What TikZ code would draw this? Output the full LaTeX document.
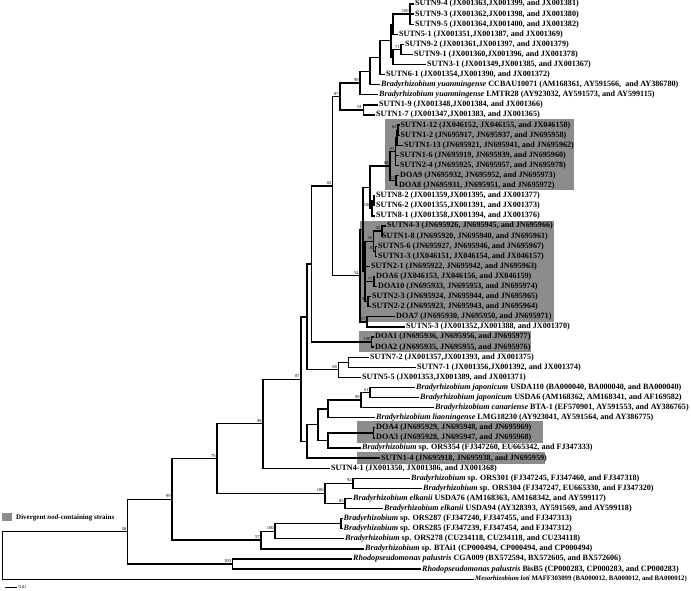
\documentclass[tikz,border=0pt]{standalone}
\usepackage{fontspec}
\setmainfont{Liberation Serif}
\begin{document}
\begin{tikzpicture}[x=1pt,y=-1pt,
    br/.style={line width=1.3pt},
    leaf/.style={anchor=west,inner sep=1pt,font=\fontsize{8.1}{9}\selectfont\bfseries},
    bs/.style={anchor=south east,inner sep=0pt,font=\fontsize{4.5}{5}\selectfont},
    grp/.style={fill=black!45}]
  \useasboundingbox (0,0) rectangle (691,590);
  % shaded groups
  \fill[grp] (385,119) rectangle (574,190);
  \fill[grp] (360,221) rectangle (554,322);
  \fill[grp] (359,331) rectangle (531,352);
  \fill[grp] (356.5,421) rectangle (542.5,443);
  \fill[grp] (356.5,452) rectangle (545,464);
  % inner nodes
  \coordinate (R) at (2.7,555.4);
  \coordinate (N58) at (127.7,531.7);
  \coordinate (N99) at (172,499.3);
  \coordinate (Nrp) at (232.3,564.05);
  \coordinate (N70) at (217,458.5);
  \coordinate (N57b) at (261,540.05);
  \coordinate (N100b) at (275,531.2);
  \coordinate (N100o) at (341,523.65);
  \coordinate (N100e) at (325,493.4);
  \coordinate (N92) at (353,483.35);
  \coordinate (N85) at (345,503.45);
  \coordinate (N98) at (263,423.7);
  \coordinate (N87) at (301,379.2);
  \coordinate (A) at (307,316.9);
  \coordinate (D) at (307,441.4);
  \coordinate (E) at (318,424.7);
  \coordinate (F) at (328,408.9);
  \coordinate (G) at (328,440.4);
  \coordinate (N99j) at (361,400.0);
  \coordinate (N61) at (370,392.45);
  \coordinate (Nd43) at (373.5,432.85);
  \coordinate (B) at (311.7,264);
  \coordinate (N68) at (338.3,369.8);
  \coordinate (N7) at (348.3,362.25);
  \coordinate (N100d) at (371.7,342.05);
  \coordinate (N82) at (332.7,186.05);
  \coordinate (N87u) at (340,96.5);
  \coordinate (N90) at (360,83);
  \coordinate (Ne) at (370,71.15);
  \coordinate (Nd) at (380,57.6);
  \coordinate (Nc) at (391,40.6);
  \coordinate (Na) at (393,24.2);
  \coordinate (N100a) at (410,14.1);
  \coordinate (Nb) at (393,57);
  \coordinate (N71) at (401,49.45);
  \coordinate (N91) at (363.3,109.95);
  \coordinate (N54) at (360,275.6);
  \coordinate (T) at (363,229.3);
  \coordinate (Hn) at (370,187.2);
  \coordinate (N88) at (390,166.05);
  \coordinate (N93) at (395.5,151.55);
  \coordinate (N63c) at (397,137.7);
  \coordinate (N63a) at (398,130.15);
  \coordinate (N63b) at (396,180.55);
  \coordinate (N100s) at (372,208.3);
  \coordinate (Ns) at (374,200.75);
  \coordinate (V) at (365,271.4);
  \coordinate (N56) at (373.5,241.15);
  \coordinate (N55) at (382,231.05);
  \coordinate (N87g) at (375.5,251.25);
  \coordinate (N77) at (374,281.45);
  \coordinate (N94) at (368,301.65);
  \coordinate (N57g) at (367,321.85);
  % leaves
  \node[leaf] (l1) at (414,4.0) {SUTN9-4 (JX001363,JX001399, and JX001381)};
  \node[leaf] (l2) at (414,14.1) {SUTN9-3 (JX001362,JX001398, and JX001380)};
  \node[leaf] (l3) at (414,24.2) {SUTN9-5 (JX001364,JX001400, and JX001382)};
  \node[leaf] (l4) at (398,34.3) {SUTN5-1 (JX001351,JX001387, and JX001369)};
  \node[leaf] (l5) at (404,44.4) {SUTN9-2 (JX001361,JX001397, and JX001379)};
  \node[leaf] (l6) at (413,54.5) {SUTN9-1 (JX001360,JX001396, and JX001378)};
  \node[leaf] (l7) at (426,64.5) {SUTN3-1 (JX001349,JX001385, and JX001367)};
  \node[leaf] (l8) at (385,74.6) {SUTN6-1 (JX001354,JX001390, and JX001372)};
  \node[leaf] (l9) at (380,84.7) {\textit{Bradyrhizobium yuanmingense} CCBAU10071 (AM168361, AY591566,\ \ and AY386780)};
  \node[leaf] (l10) at (378,94.8) {\textit{Bradyrhizobium yuanmingense} LMTR28 (AY923032, AY591573, and AY599115)};
  \node[leaf] (l11) at (378,104.9) {SUTN1-9 (JX001348,JX001384, and JX001366)};
  \node[leaf] (l12) at (375,115.0) {SUTN1-7 (JX001347,JX001383, and JX001365)};
  \node[leaf] (l13) at (399.5,125.1) {SUTN1-12 (JX046152, JX046155, and JX046158)};
  \node[leaf] (l14) at (399.5,135.2) {SUTN1-2 (JN695917, JN695937, and JN695958)};
  \node[leaf] (l15) at (403,145.3) {SUTN1-13 (JN695921, JN695941, and JN695962)};
  \node[leaf] (l16) at (399,155.4) {SUTN1-6 (JN695919, JN695939, and JN695960)};
  \node[leaf] (l17) at (399,165.4) {SUTN2-4 (JN695925, JN695957, and JN695978)};
  \node[leaf] (l18) at (399,175.5) {DOA9 (JN695932, JN695952, and JN695973)};
  \node[leaf] (l19) at (398,185.6) {DOA8 (JN695931, JN695951, and JN695972)};
  \node[leaf] (l20) at (375,195.7) {SUTN8-2 (JX001359,JX001395, and JX001377)};
  \node[leaf] (l21) at (375,205.8) {SUTN6-2 (JX001355,JX001391, and JX001373)};
  \node[leaf] (l22) at (375,215.9) {SUTN8-1 (JX001358,JX001394, and JX001376)};
  \node[leaf] (l23) at (386,226.0) {SUTN4-3 (JN695926, JN695945, and JN695966)};
  \node[leaf] (l24) at (381,236.1) {SUTN1-8 (JN695920, JN695940, and JN695961)};
  \node[leaf] (l25) at (377,246.2) {SUTN5-6 (JN695927, JN695946, and JN695967)};
  \node[leaf] (l26) at (377,256.3) {SUTN1-3 (JX046151, JX046154, and JX046157)};
  \node[leaf] (l27) at (370,266.4) {SUTN2-1 (JN695922, JN695942, and JN695963)};
  \node[leaf] (l28) at (375,276.4) {DOA6 (JX046153, JX046156, and JX046159)};
  \node[leaf] (l29) at (377,286.5) {DOA10 (JN695933, JN695953, and JN695974)};
  \node[leaf] (l30) at (371,296.6) {SUTN2-3 (JN695924, JN695944, and JN695965)};
  \node[leaf] (l31) at (371,306.7) {SUTN2-2 (JN695923, JN695943, and JN695964)};
  \node[leaf] (l32) at (395,316.8) {DOA7 (JN695930, JN695950, and JN695971)};
  \node[leaf] (l33) at (405,326.9) {SUTN5-3 (JX001352,JX001388, and JX001370)};
  \node[leaf] (l34) at (374,337.0) {DOA1 (JN695936, JN695956, and JN695977)};
  \node[leaf] (l35) at (374,347.1) {DOA2 (JN695935, JN695955, and JN695976)};
  \node[leaf] (l36) at (369,357.2) {SUTN7-2 (JX001357,JX001393, and JX001375)};
  \node[leaf] (l37) at (416,367.3) {SUTN7-1 (JX001356,JX001392, and JX001374)};
  \node[leaf] (l38) at (361,377.4) {SUTN5-5 (JX001353,JX001389, and JX001371)};
  \node[leaf] (l39) at (415,387.4) {\textit{Bradyrhizobium japonicum} USDA110 (BA000040, BA000040, and BA000040)};
  \node[leaf] (l40) at (419,397.5) {\textit{Bradyrhizobium japonicum} USDA6 (AM168362, AM168341, and AF169582)};
  \node[leaf] (l41) at (434,407.6) {\textit{Bradyrhizobium canariense} BTA-1 (EF570901, AY591553, and AY386765)};
  \node[leaf] (l42) at (375,417.7) {\textit{Bradyrhizobium liaoningense} LMG18230 (AY923041, AY591564, and AY386775)};
  \node[leaf] (l43) at (375,427.8) {DOA4 (JN695929, JN695948, and JN695969)};
  \node[leaf] (l44) at (375,437.9) {DOA3 (JN695928, JN695947, and JN695968)};
  \node[leaf] (l45) at (361,448.0) {\textit{Bradyrhizobium} sp. ORS354 (FJ347260, EU665342, and FJ347333)};
  \node[leaf] (l46) at (380,458.1) {SUTN1-4 (JN695918, JN695938, and JN695959)};
  \node[leaf] (l47) at (330,468.2) {SUTN4-1 (JX001350, JX001386, and JX001368)};
  \node[leaf] (l48) at (410,478.3) {\textit{Bradyrhizobium} sp. ORS301 (FJ347245, FJ347460, and FJ347318)};
  \node[leaf] (l49) at (422,488.4) {\textit{Bradyrhizobium} sp. ORS304 (FJ347247, EU665330, and FJ347320)};
  \node[leaf] (l50) at (352,498.4) {\textit{Bradyrhizobium elkanii} USDA76 (AM168363, AM168342, and AY599117)};
  \node[leaf] (l51) at (383,508.5) {\textit{Bradyrhizobium elkanii} USDA94 (AY328393, AY591569, and AY599118)};
  \node[leaf] (l52) at (342.5,518.6) {\textit{Bradyrhizobium} sp. ORS287 (FJ347240, FJ347455, and FJ347313)};
  \node[leaf] (l53) at (342.5,528.7) {\textit{Bradyrhizobium} sp. ORS285 (FJ347239, FJ347454, and FJ347312)};
  \node[leaf] (l54) at (344,538.8) {\textit{Bradyrhizobium} sp. ORS278 (CU234118, CU234118, and CU234118)};
  \node[leaf] (l55) at (364,548.9) {\textit{Bradyrhizobium} sp. BTAi1 (CP000494, CP000494, and CP000494)};
  \node[leaf] (l56) at (352,559.0) {\textit{Rhodopseudomonas palustris} CGA009 (BX572594, BX572605, and BX572606)};
  \node[leaf] (l57) at (421,569.1) {\textit{Rhodopseudomonas palustris} BisB5 (CP000283, CP000283, and CP000283)};
  \node[leaf,font=\fontsize{6.8}{8}\selectfont\bfseries] (l58) at (474,579.2) {\textit{Mesorhizobium loti} MAFF303099 (BA000012, BA000012, and BA000012)};
  % branches
  \draw[br] (R) |- (N58);  \draw[br] (R) |- (l58.west);
  \draw[br] (N58) |- (N99);  \draw[br] (N58) |- (Nrp);
  \draw[br] (Nrp) |- (l56.west);  \draw[br] (Nrp) |- (l57.west);
  \draw[br] (N99) |- (N70);  \draw[br] (N99) |- (N57b);
  \draw[br] (N57b) |- (N100b);  \draw[br] (N57b) |- (l55.west);
  \draw[br] (N100b) |- (N100o);  \draw[br] (N100b) |- (l54.west);
  \draw[br] (N100o) |- (l52.west);  \draw[br] (N100o) |- (l53.west);
  \draw[br] (N70) |- (N98);  \draw[br] (N70) |- (N100e);
  \draw[br] (N100e) |- (N92);  \draw[br] (N100e) |- (N85);
  \draw[br] (N92) |- (l48.west);  \draw[br] (N92) |- (l49.west);
  \draw[br] (N85) |- (l50.west);  \draw[br] (N85) |- (l51.west);
  \draw[br] (N98) |- (N87);  \draw[br] (N98) |- (l47.west);
  \draw[br] (N87) |- (A);  \draw[br] (N87) |- (D);
  \draw[br] (D) |- (E);  \draw[br] (D) |- (l46.west);
  \draw[br] (E) |- (F);  \draw[br] (E) |- (G);
  \draw[br] (F) |- (N99j);  \draw[br] (F) |- (l42.west);
  \draw[br] (N99j) |- (N61);  \draw[br] (N99j) |- (l41.west);
  \draw[br] (N61) |- (l39.west);  \draw[br] (N61) |- (l40.west);
  \draw[br] (G) |- (Nd43);  \draw[br] (G) |- (l45.west);
  \draw[br] (Nd43) |- (l43.west);  \draw[br] (Nd43) |- (l44.west);
  \draw[br] (A) |- (B);  \draw[br] (A) |- (N68);
  \draw[br] (N68) |- (N7);  \draw[br] (N68) |- (l38.west);
  \draw[br] (N7) |- (l36.west);  \draw[br] (N7) |- (l37.west);
  \draw[br] (B) |- (N82);  \draw[br] (B) |- (N100d);
  \draw[br] (N100d) |- (l34.west);  \draw[br] (N100d) |- (l35.west);
  \draw[br] (N82) |- (N87u);  \draw[br] (N82) |- (N54);
  \draw[br] (N87u) |- (N90);  \draw[br] (N87u) |- (N91);
  \draw[br] (N91) |- (l11.west);  \draw[br] (N91) |- (l12.west);
  \draw[br] (N90) |- (Ne);  \draw[br] (N90) |- (l10.west);
  \draw[br] (Ne) |- (Nd);  \draw[br] (Ne) |- (l9.west);
  \draw[br] (Nd) |- (Nc);  \draw[br] (Nd) |- (l8.west);
  \draw[br] (Nc) |- (Na);  \draw[br] (Nc) |- (Nb);
  \draw[br] (Na) |- (N100a);  \draw[br] (Na) |- (l4.west);
  \foreach \k in {1,2,3} \draw[br] (N100a) |- (l\k.west);
  \draw[br] (Nb) |- (N71);  \draw[br] (Nb) |- (l7.west);
  \draw[br] (N71) |- (l5.west);  \draw[br] (N71) |- (l6.west);
  \draw[br] (N54) |- (T);  \draw[br] (N54) |- (N57g);
  \draw[br] (N57g) |- (l32.west);  \draw[br] (N57g) |- (l33.west);
  \draw[br] (T) |- (Hn);  \draw[br] (T) |- (V);
  \draw[br] (Hn) |- (N88);  \draw[br] (Hn) |- (N100s);
  \draw[br] (N100s) |- (Ns);  \draw[br] (N100s) |- (l22.west);
  \draw[br] (Ns) |- (l20.west);  \draw[br] (Ns) |- (l21.west);
  \draw[br] (N88) |- (N93);  \draw[br] (N88) |- (N63b);
  \draw[br] (N63b) |- (l18.west);  \draw[br] (N63b) |- (l19.west);
  \draw[br] (N93) |- (N63c);  \draw[br] (N93) |- (l16.west);  \draw[br] (N93) |- (l17.west);
  \draw[br] (N63c) |- (N63a);  \draw[br] (N63c) |- (l15.west);
  \draw[br] (N63a) |- (l13.west);  \draw[br] (N63a) |- (l14.west);
  \draw[br] (V) |- (N56);  \draw[br] (V) |- (l27.west);  \draw[br] (V) |- (N77);  \draw[br] (V) |- (N94);
  \draw[br] (N56) |- (N55);  \draw[br] (N56) |- (N87g);
  \draw[br] (N55) |- (l23.west);  \draw[br] (N55) |- (l24.west);
  \draw[br] (N87g) |- (l25.west);  \draw[br] (N87g) |- (l26.west);
  \draw[br] (N77) |- (l28.west);  \draw[br] (N77) |- (l29.west);
  \draw[br] (N94) |- (l30.west);  \draw[br] (N94) |- (l31.west);
  % bootstrap values
  \foreach \n/\v in {N58/58,N99/99,N70/70,N98/98,N87/87,N100e/100,N92/92,N85/85,
      N57b/57,N100b/100,Nrp/100,N99j/99,N61/61,N68/68,N100d/100,N82/82,N87u/87,
      N90/90,N91/91,N100a/100,N71/71,N54/54,N88/88,N93/93,N63a/63,N63b/63,
      N100s/100,N55/55,N56/56,N87g/87,N77/77,N94/94,N57g/57}
    \node[bs] at ([xshift=-1.2pt,yshift=1.2pt]\n) {\v};
  % legend and scale
  \fill[grp] (1.7,513) rectangle (12.3,521);
  \node[anchor=west,inner sep=0pt,font=\fontsize{7}{8}\selectfont\bfseries] (key) at (16,517.5) {Divergent \textit{nod}-containing strains};
  \coordinate (s0) at (5,587.3);
  \coordinate (s1) at (17,587.3);
  \draw[line width=0.7pt] (s0) -- (s1);
  \node[anchor=west,inner sep=1.5pt,font=\fontsize{4.5}{5}\selectfont] at (s1) {0.01};
\end{tikzpicture}
\end{document}
